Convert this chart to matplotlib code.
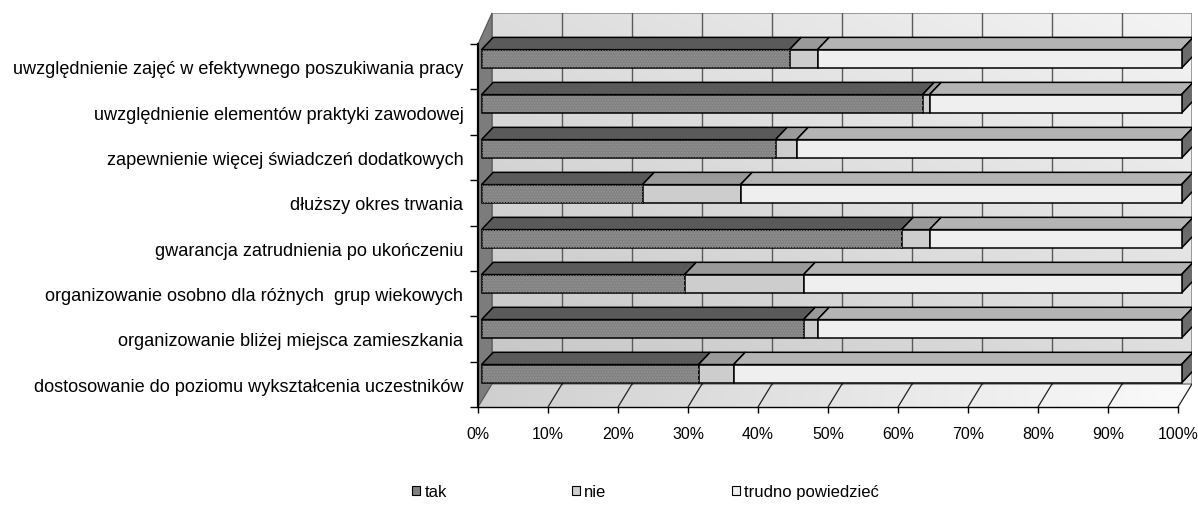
import numpy as np
import matplotlib
matplotlib.use("Agg")
import matplotlib.pyplot as plt
from matplotlib.patches import Polygon, Patch

plt.rcParams['font.family'] = ['Liberation Sans', 'DejaVu Sans']
plt.rcParams['hatch.linewidth'] = 0.8

# survey answers, listed top to bottom
categories = [
    "uwzględnienie zajęć w efektywnego poszukiwania pracy",
    "uwzględnienie elementów praktyki zawodowej",
    "zapewnienie więcej świadczeń dodatkowych",
    "dłuższy okres trwania",
    "gwarancja zatrudnienia po ukończeniu",
    "organizowanie osobno dla różnych  grup wiekowych",
    "organizowanie bliżej miejsca zamieszkania",
    "dostosowanie do poziomu wykształcenia uczestników",
]
tak = [44, 63, 42, 23, 60, 29, 46, 31]
nie = [4, 1, 3, 14, 4, 17, 2, 5]
trudno = [52, 36, 55, 63, 36, 54, 52, 64]
series_names = ["tak", "nie", "trudno powiedzieć"]
x_ticks = list(range(0, 101, 10))
x_tick_labels = [f"{v}%" for v in x_ticks]

# styling
face_colors = ["#828282", "#cdcdcd", "#efefef"]
top_colors = ["#5a5a5a", "#9a9a9a", "#b4b4b4"]
cap_color = "#6c6c6c"
FS_CAT = 13.1
FS_X = 11.4
FS_LEG = 12

W, H = 1198, 506
fig = plt.figure(figsize=(W / 100, H / 100), dpi=100)
ax = fig.add_axes([478 / W, (H - 408) / H, 714 / W, 394 / H])
Y0, Y1 = -0.738, 8.02
ax.set_xlim(0, 102)
ax.set_ylim(Y0, Y1)

# 3D frame geometry (data units)
WX, WY = 2.0, 0.511          # depth offset of the back wall
BACK_BOTTOM = Y0 + WY
FRONT_TOP = 7.33
SHIFT = 0.5                  # bars sit slightly behind the front plane
DX, DY = 1.67, 0.273         # bar depth
BAR_H = 0.41

# back wall with gradient
grad = np.linspace(0, 1, 256)
gx, gy = np.meshgrid(grad, grad)
g = 0.5 * gx + 0.5 * (1 - gy)
ax.imshow(g, extent=(WX, 100 + WX, BACK_BOTTOM, Y1), origin="upper",
          cmap=matplotlib.colors.LinearSegmentedColormap.from_list(
              "w", ["#c6c6c6", "#f4f4f4"]),
          aspect="auto", zorder=0, vmin=0, vmax=1)
ax.add_patch(Polygon([(WX, BACK_BOTTOM), (100 + WX, BACK_BOTTOM), (100 + WX, Y1), (WX, Y1)],
                     closed=True, fill=False, edgecolor="#8c8c8c", lw=1.2, zorder=1))

# floor
floor = Polygon([(0, Y0), (100, Y0), (100 + WX, BACK_BOTTOM), (WX, BACK_BOTTOM)],
                closed=True, facecolor="none", edgecolor="none", zorder=0)
ax.add_patch(floor)
fl = ax.imshow(np.tile(np.linspace(0, 1, 256), (16, 1)), extent=(0, 100 + WX, Y0, BACK_BOTTOM),
               cmap=matplotlib.colors.LinearSegmentedColormap.from_list(
                   "f", ["#cfcfcf", "#fbfbfb"]),
               aspect="auto", zorder=0.5)
fl.set_clip_path(floor)

# left side wall
ax.add_patch(Polygon([(0, Y0), (0, FRONT_TOP), (WX, Y1), (WX, BACK_BOTTOM)],
                     closed=True, facecolor="#7c7c7c", edgecolor="#555555", lw=0.8,
                     zorder=1, clip_on=False))

# grid lines on back wall and floor
for v in x_ticks[1:-1]:
    ax.plot([v + WX, v + WX], [BACK_BOTTOM, Y1], color="#5a5a5a", lw=1.0, zorder=1)
for v in x_ticks[1:]:
    ax.plot([v, v + WX], [Y0, BACK_BOTTOM], color="#222222", lw=0.9, zorder=1)

# stacked 3D bars
n = len(categories)
y_pos = np.arange(n)[::-1]
values = [tak, nie, trudno]
for i in range(n):
    yc = y_pos[i]
    left = SHIFT
    for s in range(3):
        w = values[s][i]
        ax.barh(yc, w, left=left, height=BAR_H, color=face_colors[s],
                edgecolor="black", lw=1.1, zorder=3)
        if s == 0:
            ax.barh(yc, w, left=left, height=BAR_H, fill=False, hatch="......",
                    edgecolor="#929292", lw=0, zorder=3.2)
        top = yc + BAR_H / 2
        ax.add_patch(Polygon([(left, top), (left + w, top), (left + w + DX, top + DY),
                              (left + DX, top + DY)], closed=True,
                             facecolor=top_colors[s], edgecolor="black", lw=1.1, zorder=2.5))
        left += w
    bot = yc - BAR_H / 2
    top = yc + BAR_H / 2
    ax.add_patch(Polygon([(left, bot), (left, top), (left + DX, top + DY), (left + DX, bot + DY)],
                         closed=True, facecolor=cap_color, edgecolor="black", lw=1.1, zorder=2.5))

# axes, ticks and labels
for side in ("top", "right"):
    ax.spines[side].set_visible(False)
ax.spines["left"].set_bounds(Y0, FRONT_TOP)
ax.spines["left"].set_linewidth(1.6)
ax.spines["bottom"].set_bounds(0, 100)
ax.spines["bottom"].set_linewidth(1.0)
ax.spines["left"].set_zorder(4)

ax.set_xticks(x_ticks)
ax.set_xticklabels(x_tick_labels, fontsize=FS_X)
ax.tick_params(axis="x", direction="out", length=4, width=1, pad=10)

bounds = np.linspace(Y0, FRONT_TOP, n + 1)
ax.set_yticks(bounds)
ax.set_yticklabels([])
ax.tick_params(axis="y", which="major", direction="out", length=6, width=1)
mids = (bounds[:-1] + bounds[1:]) / 2
ax.set_yticks(mids, minor=True)
ax.set_yticklabels(categories[::-1], minor=True, fontsize=FS_CAT)
ax.tick_params(axis="y", which="minor", length=0, pad=10.5)

# legend
handles = [Patch(facecolor=face_colors[k], edgecolor="black", lw=0.8) for k in range(3)]
fig.legend(handles, series_names, loc="center left", bbox_to_anchor=(412 / W, 1 - 493 / H),
           ncol=3, frameon=False, fontsize=FS_LEG, handlelength=0.5, handleheight=0.5,
           handletextpad=0.25, columnspacing=7.5, borderpad=0, borderaxespad=0)

fig.savefig("out.png", dpi=100)
